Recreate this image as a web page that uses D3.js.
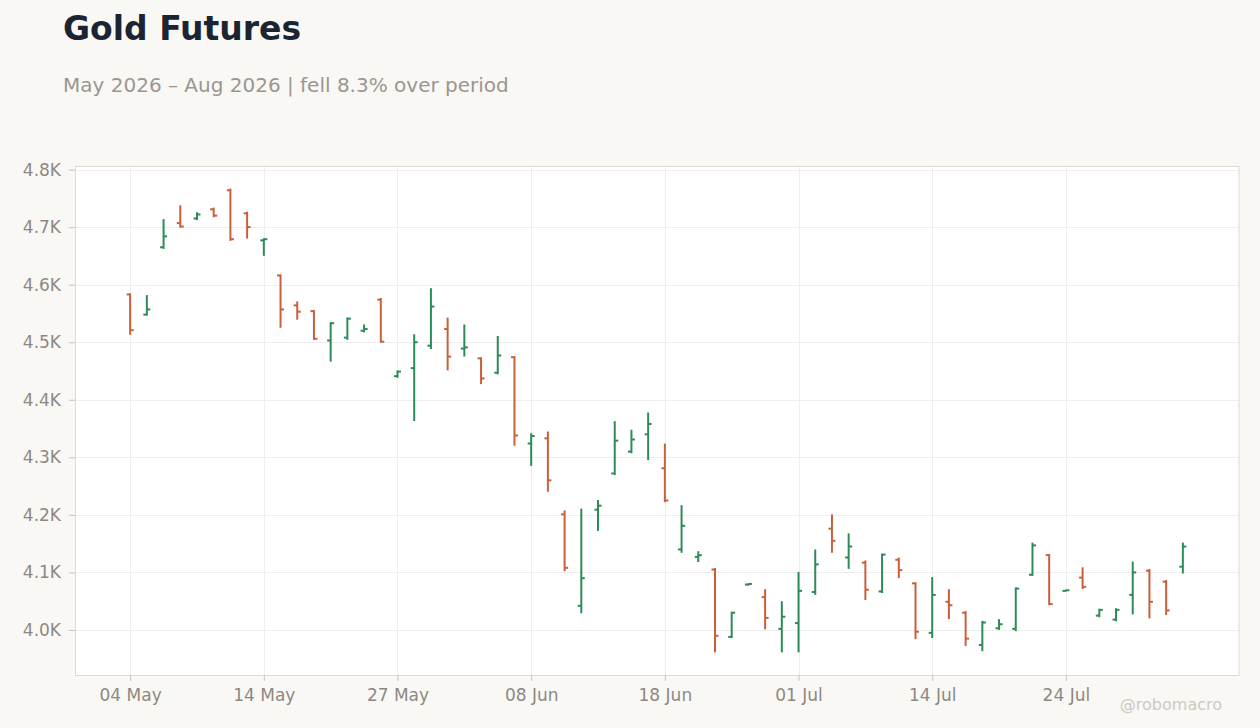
<!DOCTYPE html>
<html><head><meta charset="utf-8">
<script src="https://cdn.jsdelivr.net/npm/d3@7"></script>
<style>
html,body{margin:0;padding:0;background:#f9f8f5;}
svg{display:block;font-family:"DejaVu Sans",sans-serif;}
</style></head><body>
<svg id="c" width="1260" height="728"></svg>
<script>
const dates = [
 "2026-05-04","2026-05-05","2026-05-06","2026-05-07","2026-05-08","2026-05-11","2026-05-12","2026-05-13","2026-05-14","2026-05-15",
 "2026-05-18","2026-05-19","2026-05-20","2026-05-21","2026-05-22","2026-05-26","2026-05-27","2026-05-28","2026-05-29","2026-06-01",
 "2026-06-02","2026-06-03","2026-06-04","2026-06-05","2026-06-08","2026-06-09","2026-06-10","2026-06-11","2026-06-12","2026-06-15",
 "2026-06-16","2026-06-17","2026-06-18","2026-06-22","2026-06-23","2026-06-24","2026-06-25","2026-06-26","2026-06-29","2026-06-30",
 "2026-07-01","2026-07-02","2026-07-06","2026-07-07","2026-07-08","2026-07-09","2026-07-10","2026-07-13","2026-07-14","2026-07-15",
 "2026-07-16","2026-07-17","2026-07-20","2026-07-21","2026-07-22","2026-07-23","2026-07-24","2026-07-27","2026-07-28","2026-07-29",
 "2026-07-30","2026-07-31","2026-08-03","2026-08-04"
];
const opens = [
 4583,4548,4665,4707,4715,4731,4764,4724,4677,4616,
 4564,4554,4503,4508,4520,4574,4441,4455,4494,4523,
 4489,4472,4447,4474,4324,4333,4201,4042,4209,4272,
 4310,4340,4281,4140,4127,4105,3988,4079,4057,4002,
 4012,4066,4176,4126,4117,4067,4122,4081,3995,4049,
 4030,3974,4003,4002,4096,4130,4068,4091,4025,4018,
 4061,4103,4084,4110
];
const highs = [
 4584,4581,4713,4737,4725,4733,4766,4726,4680,4617,
 4570,4555,4534,4542,4530,4576,4450,4513,4593,4542,
 4530,4473,4510,4475,4341,4344,4207,4210,4225,4362,
 4347,4377,4323,4216,4136,4107,4031,4080,4070,4049,
 4100,4139,4200,4167,4120,4132,4125,4082,4091,4070,
 4032,4015,4018,4073,4151,4131,4069,4108,4036,4037,
 4118,4105,4086,4151
];
const lows = [
 4514,4547,4663,4700,4713,4718,4677,4681,4651,4526,
 4540,4505,4467,4505,4518,4500,4439,4364,4489,4452,
 4476,4428,4445,4321,4286,4241,4103,4030,4173,4270,
 4308,4296,4223,4135,4119,3962,3987,4078,4002,3962,
 3962,4062,4135,4107,4053,4065,4091,3985,3987,4020,
 3973,3964,4001,3999,4095,4044,4068,4072,4023,4016,
 4028,4021,4027,4099
];
const closes = [
 4521,4557,4684,4701,4722,4720,4679,4700,4679,4557,
 4553,4506,4533,4541,4523,4501,4449,4500,4562,4475,
 4491,4437,4477,4338,4337,4260,4108,4090,4216,4329,
 4331,4358,4225,4181,4130,3990,4030,4080,4021,4023,
 4068,4114,4155,4145,4070,4131,4104,3997,4061,4043,
 3985,4013,4010,4072,4147,4045,4069,4075,4035,4035,
 4100,4049,4034,4145
];
const yTickValues = [4000,4100,4200,4300,4400,4500,4600,4700,4800];
const xTickDates = ["2026-05-04","2026-05-14","2026-05-27","2026-06-08","2026-06-18","2026-07-01","2026-07-14","2026-07-24"];
const titleText = "Gold Futures";
const subtitleText = "May 2026 – Aug 2026 | fell 8.3% over period";
const watermark = "@robomacro";

const W = 1260, H = 728;
const plot = {left:75, right:1238, top:166, bottom:675};
const UP = "#2e8b57", DOWN = "#c8603c";

const bars = dates.map((d,i)=>({d, o:opens[i], h:highs[i], l:lows[i], c:closes[i]}));
const svg = d3.select("#c");

const x = d3.scalePoint().domain(dates).range([plot.left, plot.right]).padding(3.3);
const lo = d3.min(lows), hi = d3.max(highs), pad = (hi-lo)*0.05;
const y = d3.scaleLinear().domain([lo-pad, hi+pad]).range([plot.bottom, plot.top]);

// titles
svg.append("text").attr("x",63).attr("y",40).attr("font-size",33).attr("font-weight","bold")
  .attr("fill","#1b2433").text(titleText);
svg.append("text").attr("x",63).attr("y",92).attr("font-size",20).attr("fill","#9b9691").text(subtitleText);

// plot background
svg.append("rect").attr("x",plot.left+0.5).attr("y",plot.top+0.5)
  .attr("width",plot.right-plot.left+0.5).attr("height",plot.bottom-plot.top)
  .attr("fill","#ffffff");

// grid
const grid = svg.append("g");
grid.selectAll("line.h").data(yTickValues).join("line").attr("class","h")
  .attr("x1",plot.left).attr("x2",plot.right+1)
  .attr("y1",d=>Math.round(y(d))+0.5).attr("y2",d=>Math.round(y(d))+0.5)
  .attr("stroke","#efeeec").attr("stroke-width",1);
grid.selectAll("line.v").data(xTickDates).join("line").attr("class","v")
  .attr("y1",plot.top).attr("y2",plot.bottom)
  .attr("x1",d=>Math.round(x(d))+0.5).attr("x2",d=>Math.round(x(d))+0.5)
  .attr("stroke","#efeeec").attr("stroke-width",1);

// border
svg.append("rect").attr("x",plot.left+0.5).attr("y",plot.top+0.5)
  .attr("width",plot.right-plot.left+0.5).attr("height",plot.bottom-plot.top)
  .attr("fill","none").attr("stroke","#e0d9d1").attr("stroke-width",1);

// axes
const fmtDate = d3.timeFormat("%d %b");
const parse = d3.timeParse("%Y-%m-%d");
const yAxis = d3.axisLeft(y).tickValues(yTickValues).tickSize(6).tickPadding(8)
  .tickFormat(v=>(v/1000).toFixed(1)+"K");
const gy = svg.append("g").attr("transform",`translate(${plot.left},0)`).call(yAxis);
const xAxis = d3.axisBottom(x).tickValues(xTickDates).tickSize(6).tickPadding(8)
  .tickFormat(d=>fmtDate(parse(d)));
const gx = svg.append("g").attr("transform",`translate(0,${plot.bottom})`).call(xAxis);
[gx,gy].forEach(g=>{
  g.select(".domain").remove();
  g.selectAll(".tick line").attr("stroke","#c9c3bc");
  g.selectAll(".tick text").attr("fill","#8e8883").attr("font-size",17)
    .attr("font-family","DejaVu Sans, sans-serif");
});

// OHLC bars
const tk = 3.5;
const g = svg.append("g").attr("stroke-width",2).attr("stroke-linecap","butt");
const bg = g.selectAll("g.bar").data(bars).join("g").attr("class","bar")
  .attr("stroke",d=>d.c>=d.o?UP:DOWN);
bg.append("line").attr("x1",d=>x(d.d)).attr("x2",d=>x(d.d))
  .attr("y1",d=>y(d.h)-0.5).attr("y2",d=>y(d.l)+0.5);
bg.append("line").attr("x1",d=>x(d.d)-tk).attr("x2",d=>x(d.d))
  .attr("y1",d=>y(d.o)).attr("y2",d=>y(d.o));
bg.append("line").attr("x1",d=>x(d.d)).attr("x2",d=>x(d.d)+tk)
  .attr("y1",d=>y(d.c)).attr("y2",d=>y(d.c));

// watermark
svg.append("text").attr("x",1222).attr("y",710).attr("text-anchor","end")
  .attr("font-size",16).attr("fill","#cdc9c4").text(watermark);
</script>
</body></html>
